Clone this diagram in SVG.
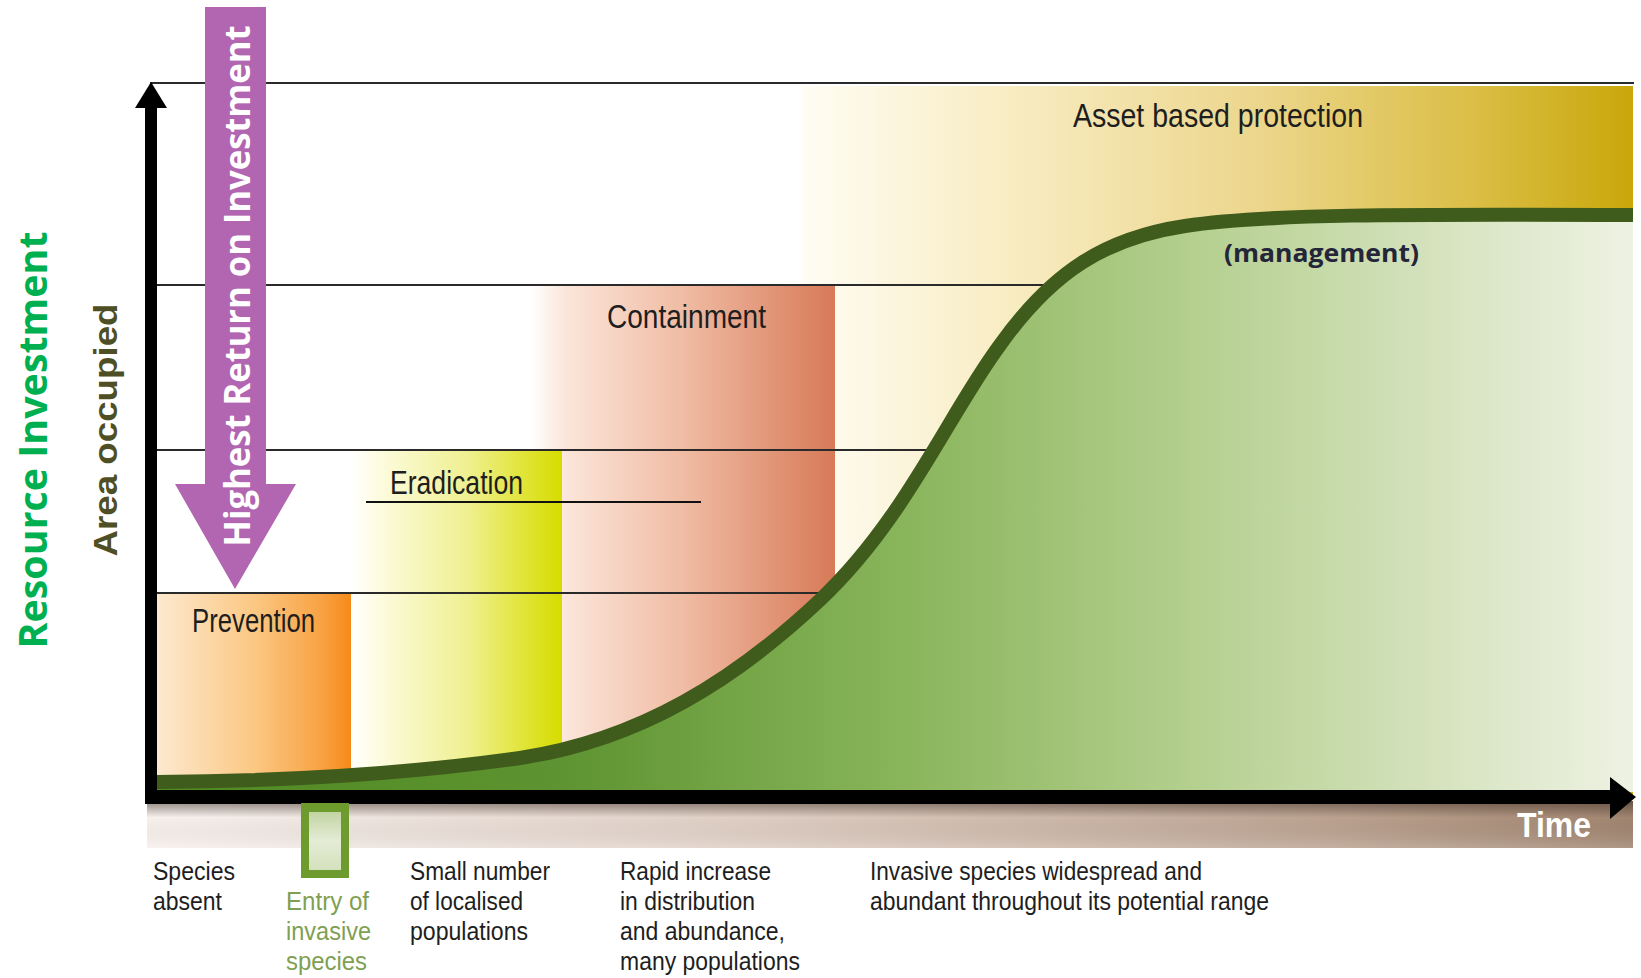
<svg xmlns="http://www.w3.org/2000/svg" width="1641" height="978" viewBox="0 0 1641 978">
<defs>
<linearGradient id="gAsset" x1="802" y1="0" x2="1633" y2="0" gradientUnits="userSpaceOnUse">
<stop offset="0" stop-color="#fffdf4"/><stop offset="0.25" stop-color="#f8ecc2"/><stop offset="0.55" stop-color="#ecd68c"/><stop offset="0.8" stop-color="#dbbf48"/><stop offset="1" stop-color="#c9a70a"/>
</linearGradient>
<linearGradient id="gCont" x1="530" y1="0" x2="835" y2="0" gradientUnits="userSpaceOnUse">
<stop offset="0" stop-color="#ffffff"/><stop offset="0.12" stop-color="#fbe5d9"/><stop offset="0.5" stop-color="#f0bca4"/><stop offset="1" stop-color="#d77a58"/>
</linearGradient>
<linearGradient id="gErad" x1="351" y1="0" x2="562" y2="0" gradientUnits="userSpaceOnUse">
<stop offset="0" stop-color="#ffffff"/><stop offset="0.15" stop-color="#fcfbdc"/><stop offset="0.55" stop-color="#eff091"/><stop offset="0.85" stop-color="#dfe32c"/><stop offset="1" stop-color="#d6dc00"/>
</linearGradient>
<linearGradient id="gPrev" x1="157" y1="0" x2="351" y2="0" gradientUnits="userSpaceOnUse">
<stop offset="0" stop-color="#fde9cf"/><stop offset="0.5" stop-color="#fbc883"/><stop offset="0.85" stop-color="#f8a243"/><stop offset="1" stop-color="#f68a18"/>
</linearGradient>
<linearGradient id="gGreen" x1="157" y1="0" x2="1633" y2="0" gradientUnits="userSpaceOnUse">
<stop offset="0" stop-color="#4f8a23"/><stop offset="0.27" stop-color="#5d9330"/><stop offset="0.5" stop-color="#88b45a"/><stop offset="0.7" stop-color="#b4cf8e"/><stop offset="0.87" stop-color="#d6e3bf"/><stop offset="1" stop-color="#eef2e3"/>
</linearGradient>
<linearGradient id="gBand" x1="147" y1="0" x2="1633" y2="0" gradientUnits="userSpaceOnUse">
<stop offset="0" stop-color="#f7f1ee"/><stop offset="0.4" stop-color="#dfcfc5"/><stop offset="0.8" stop-color="#bba290"/><stop offset="1" stop-color="#a08570"/>
</linearGradient>
<linearGradient id="gBandShade" x1="0" y1="801" x2="0" y2="848" gradientUnits="userSpaceOnUse">
<stop offset="0" stop-color="#3a2a20" stop-opacity="0.55"/><stop offset="0.35" stop-color="#3a2a20" stop-opacity="0"/><stop offset="1" stop-color="#ffffff" stop-opacity="0.15"/>
</linearGradient>
<linearGradient id="gEntry" x1="0" y1="812" x2="0" y2="870" gradientUnits="userSpaceOnUse">
<stop offset="0" stop-color="#c3d4a3"/><stop offset="0.5" stop-color="#e4ecd6"/><stop offset="1" stop-color="#d4e1bd"/>
</linearGradient>
<style>
.lbl{font-family:"Liberation Sans",Arial,sans-serif;font-size:33px;fill:#1e1e1e}
.desc{font-family:"Liberation Sans",Arial,sans-serif;font-size:26px;fill:#1e1e1e}
.entry{fill:#7f9f52}
.grid{stroke:#2a2a2a;stroke-width:2;fill:none}
</style>
</defs>
<rect width="1641" height="978" fill="#ffffff"/>

<g id="asset-region"><rect x="802" y="86" width="831" height="710" fill="url(#gAsset)"/></g>
<g id="containment-region"><rect x="530" y="285" width="305" height="511" fill="url(#gCont)"/></g>
<g id="eradication-region"><rect x="351" y="450" width="211" height="346" fill="url(#gErad)"/></g>
<g id="prevention-region"><rect x="157" y="592" width="194" height="204" fill="url(#gPrev)"/></g>

<g id="grid-lines">
<line class="grid" x1="150" y1="83" x2="1634" y2="83"/>
<line class="grid" x1="157" y1="285" x2="1060" y2="285"/>
<line class="grid" x1="157" y1="450" x2="940" y2="450"/>
<line class="grid" x1="157" y1="593" x2="830" y2="593"/>
<line x1="366" y1="502" x2="701" y2="502" stroke="#111" stroke-width="2"/>
</g>

<g id="spread-curve">
<path d="M157,782 C300,781 420,772 520,758 C640,740 735,680 820,600 C905,520 948,415 1000,345 C1052,272 1105,238 1185,226 C1265,214 1400,214 1633,215 L1633,792 L157,792 Z" fill="url(#gGreen)"/>
<path d="M157,782 C300,781 420,772 520,758 C640,740 735,680 820,600 C905,520 948,415 1000,345 C1052,272 1105,238 1185,226 C1265,214 1400,214 1633,215" fill="none" stroke="#3f5c1c" stroke-width="14"/>
</g>

<g id="time-band">
<rect x="147" y="801" width="1486" height="47" fill="url(#gBand)"/>
<rect x="147" y="801" width="1486" height="47" fill="url(#gBandShade)"/>
<text x="1517" y="837" font-family="Liberation Sans,Arial,sans-serif" font-weight="bold" font-size="35" fill="#ffffff" textLength="74" lengthAdjust="spacingAndGlyphs">Time</text>
</g>

<g id="axes">
<rect x="145" y="100" width="12" height="704" fill="#000"/>
<polygon points="151,82 167,108 135,108" fill="#000"/>
<rect x="145" y="790" width="1470" height="14" fill="#000"/>
<polygon points="1610,777 1636,797 1610,819" fill="#000"/>
</g>

<g id="entry-marker">
<rect x="301" y="803" width="48" height="75" fill="#6d9b2e"/>
<rect x="309" y="812" width="32" height="58" fill="url(#gEntry)"/>
</g>

<g id="labels">
<text class="lbl" x="192" y="632" textLength="123" lengthAdjust="spacingAndGlyphs">Prevention</text>
<text class="lbl" x="390" y="494" textLength="133" lengthAdjust="spacingAndGlyphs">Eradication</text>
<text class="lbl" x="607" y="328" textLength="159" lengthAdjust="spacingAndGlyphs">Containment</text>
<text class="lbl" x="1073" y="127" textLength="290" lengthAdjust="spacingAndGlyphs">Asset based protection</text>
<text x="1224" y="262" font-family="Open Sans,sans-serif" font-weight="bold" font-size="25" fill="#25253a" textLength="195" lengthAdjust="spacingAndGlyphs">(management)</text>
</g>

<g id="stage-descriptions">
<text class="desc" x="153" y="880" textLength="82" lengthAdjust="spacingAndGlyphs">Species</text>
<text class="desc" x="153" y="910" textLength="69" lengthAdjust="spacingAndGlyphs">absent</text>
<text class="desc entry" x="286" y="910" textLength="83" lengthAdjust="spacingAndGlyphs">Entry of</text>
<text class="desc entry" x="286" y="940" textLength="85" lengthAdjust="spacingAndGlyphs">invasive</text>
<text class="desc entry" x="286" y="970" textLength="81" lengthAdjust="spacingAndGlyphs">species</text>
<text class="desc" x="410" y="880" textLength="140" lengthAdjust="spacingAndGlyphs">Small number</text>
<text class="desc" x="410" y="910" textLength="113" lengthAdjust="spacingAndGlyphs">of localised</text>
<text class="desc" x="410" y="940" textLength="118" lengthAdjust="spacingAndGlyphs">populations</text>
<text class="desc" x="620" y="880" textLength="151" lengthAdjust="spacingAndGlyphs">Rapid increase</text>
<text class="desc" x="620" y="910" textLength="135" lengthAdjust="spacingAndGlyphs">in distribution</text>
<text class="desc" x="620" y="940" textLength="165" lengthAdjust="spacingAndGlyphs">and abundance,</text>
<text class="desc" x="620" y="970" textLength="180" lengthAdjust="spacingAndGlyphs">many populations</text>
<text class="desc" x="870" y="880" textLength="332" lengthAdjust="spacingAndGlyphs">Invasive species widespread and</text>
<text class="desc" x="870" y="910" textLength="399" lengthAdjust="spacingAndGlyphs">abundant throughout its potential range</text>
</g>

<g id="axis-titles">
<text transform="translate(47,440) rotate(-90)" text-anchor="middle" font-family="Open Sans,sans-serif" font-weight="bold" font-size="40" fill="#00b050" textLength="417" lengthAdjust="spacingAndGlyphs">Resource Investment</text>
<text transform="translate(117,430) rotate(-90)" text-anchor="middle" font-family="Liberation Sans,Arial,sans-serif" font-weight="bold" font-size="33" fill="#4f4f25" textLength="253" lengthAdjust="spacingAndGlyphs">Area occupied</text>
</g>

<g id="roi-arrow">
<polygon points="205,7 266,7 266,484 296,484 235,589 175,484 205,484" fill="#b265b0"/>
<text transform="translate(250,286) rotate(-90)" text-anchor="middle" font-family="Open Sans,sans-serif" font-weight="bold" font-size="36" fill="#ffffff" textLength="521" lengthAdjust="spacingAndGlyphs">Highest Return on Investment</text>
</g>
</svg>
